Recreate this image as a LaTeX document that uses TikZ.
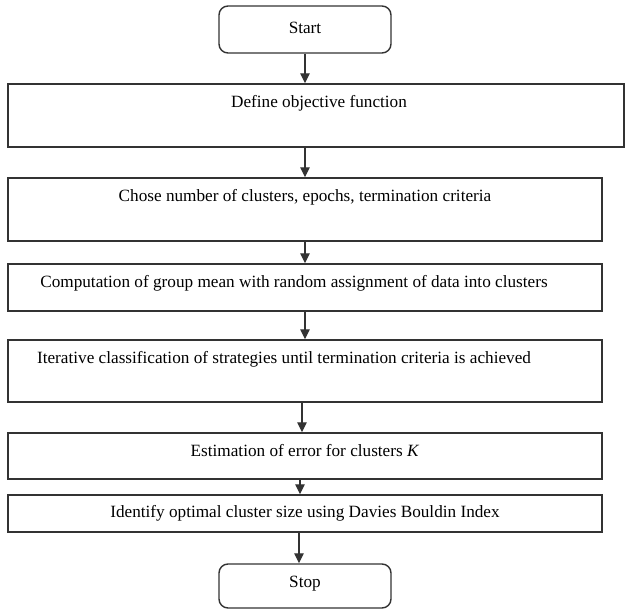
\documentclass[tikz,border=0pt]{standalone}
\usepackage{fontspec}
\setmainfont{Liberation Serif}
\usetikzlibrary{arrows.meta}
\definecolor{ink}{HTML}{333333}
\begin{document}
\begin{tikzpicture}[x=1pt,y=-1pt,
  box/.style={draw=ink,line width=1.4pt,rectangle,inner sep=0pt},
  term/.style={box,rounded corners=9pt},
  lbl/.style={font=\fontsize{17.2}{20}\selectfont,inner sep=0pt,text=black},
  conn/.style={draw=ink,line width=1.3pt,-{Triangle[length=10pt,width=9.5pt]}}]
\useasboundingbox[fill=white] (0,0) rectangle (625,610);
% boxes: center x, center y, width, height
\node[term,minimum width=172,minimum height=47] (start) at (305,29.5) {};
\node[lbl] (tstart) at (305,28) {Start};
\node[box,minimum width=616,minimum height=63] (b1) at (316,115.5) {};
\node[lbl] (t1) at (319,103) {Define objective function};
\node[box,minimum width=594,minimum height=63] (b2) at (305,209.5) {};
\node[lbl] (t2) at (305,197) {Chose number of clusters, epochs, termination criteria};
\node[box,minimum width=594,minimum height=47] (b3) at (305,287.5) {};
\node[lbl] (t3) at (294,283) {Computation of group mean with random assignment of data into clusters};
\node[box,minimum width=594,minimum height=62] (b4) at (305,371) {};
\node[lbl] (t4) at (284,359) {Iterative classification of strategies until termination criteria is achieved};
\node[box,minimum width=594,minimum height=46] (b5) at (305,456) {};
\node[lbl] (t5) at (305,451) {Estimation of error for clusters \textit{K}};
\node[box,minimum width=594,minimum height=37] (b6) at (305,513.5) {};
\node[lbl] (t6) at (305,513) {Identify optimal cluster size using Davies Bouldin Index};
\node[term,minimum width=172,minimum height=44] (stop) at (305,586) {};
\node[lbl] (tstop) at (305,584) {Stop};
% connectors
\draw[conn] (start.south) -- (start.south |- b1.north);
\draw[conn] (b2.north |- b1.south) -- (b2.north);
\draw[conn] (b2.south) -- (b3.north);
\draw[conn] (b3.south) -- (b4.north);
\draw[conn] ([xshift=-3pt]b4.south) -- ([xshift=-3pt]b5.north);
\draw[conn] ([xshift=-5pt]b5.south) -- ([xshift=-5pt]b6.north);
\draw[conn] ([xshift=-6pt]b6.south) -- ([xshift=-6pt]stop.north);
\end{tikzpicture}
\end{document}
